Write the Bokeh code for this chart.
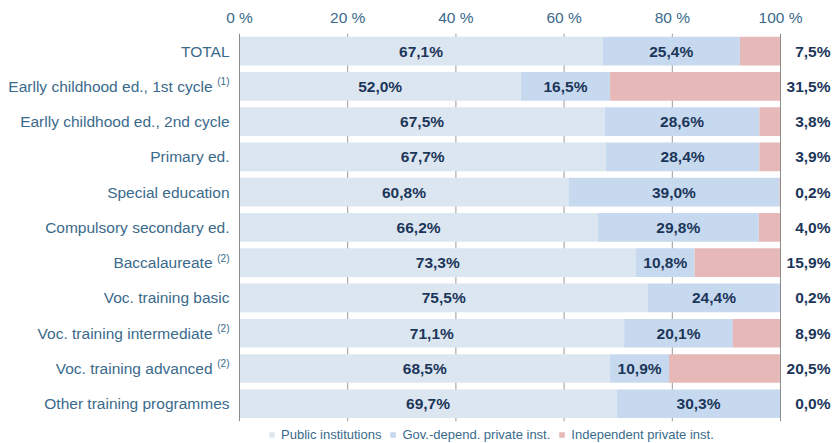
from bokeh.plotting import figure
from bokeh.models import (ColumnDataSource, Range1d, FixedTicker, Legend, LegendItem)
from bokeh.core.properties import value
from bokeh.embed import file_html
from bokeh.resources import INLINE

# ---- data ----
categories = ["TOTAL", "Earlly childhood ed., 1st cycle", "Earlly childhood ed., 2nd cycle",
              "Primary ed.", "Special education", "Compulsory secondary ed.", "Baccalaureate",
              "Voc. training basic", "Voc. training intermediate", "Voc. training advanced",
              "Other training programmes"]
notes = ["", "(1)", "", "", "", "", "(2)", "", "(2)", "(2)", ""]
public = [67.1, 52.0, 67.5, 67.7, 60.8, 66.2, 73.3, 75.5, 71.1, 68.5, 69.7]
govdep = [25.4, 16.5, 28.6, 28.4, 39.0, 29.8, 10.8, 24.4, 20.1, 10.9, 30.3]
indep = [7.5, 31.5, 3.8, 3.9, 0.2, 4.0, 15.9, 0.2, 8.9, 20.5, 0.0]
series_names = ["Public institutions", "Gov.-depend. private inst.", "Independent private inst."]
tick_vals = [0, 20, 40, 60, 80, 100]
tick_labels = ["0 %", "20 %", "40 %", "60 %", "80 %", "100 %"]

colors = ["#dce6f0", "#c6d9ee", "#e6b9b8"]
label_color = "#3a6a8c"
value_color = "#1c365a"
FONT = value("Liberation Sans")


def fmt(v):
    return ("%.1f" % v).replace(".", ",") + "%"


n = len(categories)
rows = list(range(n))  # row 0 at top
gov_end = [a + b for a, b in zip(public, govdep)]
ind_end = [a + b + c for a, b, c in zip(public, govdep, indep)]

src = ColumnDataSource(dict(
    row=rows, cat=categories, zero=[0] * n,
    pub_end=public, gov_end=gov_end, ind_end=ind_end,
    pub_mid=[v / 2 for v in public],
    gov_mid=[p + g / 2 for p, g in zip(public, govdep)],
    pub_txt=[fmt(v) for v in public],
    gov_txt=[fmt(v) for v in govdep],
    ind_txt=[fmt(v) for v in indep],
    right=[100] * n,
))

plain_idx = [i for i, t in enumerate(notes) if not t]
note_idx = [i for i, t in enumerate(notes) if t]
plain_src = ColumnDataSource(dict(row=plain_idx, cat=[categories[i] for i in plain_idx],
                                  x=[0] * len(plain_idx)))
note_src = ColumnDataSource(dict(row=note_idx, cat=[categories[i] for i in note_idx],
                                 note=[notes[i] for i in note_idx], x=[0] * len(note_idx)))

# ---- layout (pixels) ----
W, H = 833, 443
AX_L, AX_R = 239, 780          # screen x of 0 % and 100 %
ppu = (AX_R - AX_L) / 100.0
x_start = -AX_L / ppu
x_end = 100 + (W - AX_R) / ppu
y_extra = 0.63                 # room below last row for the legend

p = figure(width=W, height=H, output_backend="svg", toolbar_location=None,
           x_range=Range1d(x_start, x_end),
           y_range=Range1d(n - 0.5 + y_extra, -0.5),
           x_axis_location="above", y_axis_location=None,
           min_border_left=0, min_border_right=0, min_border_top=33, min_border_bottom=0)
p.outline_line_color = None
p.background_fill_color = "white"
p.grid.visible = False

# top axis
ax = p.xaxis[0]
ax.ticker = FixedTicker(ticks=tick_vals)
ax.major_label_overrides = {v: t for v, t in zip(tick_vals, tick_labels)}
ax.axis_line_color = None
ax.major_tick_line_color = None
ax.minor_tick_line_color = None
ax.major_tick_in = 0
ax.major_tick_out = 0
ax.major_label_standoff = 8
ax.major_label_text_font = "Liberation Sans"
ax.major_label_text_font_size = "15.5px"
ax.major_label_text_color = label_color

# vertical grid lines (behind bars)
inner = [t for t in tick_vals if 0 < t < 100]
p.segment(x0=inner, x1=inner, y0=[-0.5] * len(inner), y1=[n - 0.5] * len(inner),
          line_color="#9a9a9a", line_width=1)

# bars
bh = 0.81
r1 = p.hbar(y="row", left="zero", right="pub_end", height=bh, source=src,
            fill_color=colors[0], line_color=None)
r2 = p.hbar(y="row", left="pub_end", right="gov_end", height=bh, source=src,
            fill_color=colors[1], line_color=None)
r3 = p.hbar(y="row", left="gov_end", right="ind_end", height=bh, source=src,
            fill_color=colors[2], line_color=None)

# 0 % and 100 % lines
edges = [0, 100]
p.segment(x0=edges, x1=edges, y0=[-0.5] * 2, y1=[n - 0.5] * 2,
          line_color="#8c8c8c", line_width=1)

# values
common = dict(text_font=FONT, text_font_size="15.5px", text_font_style="bold",
              text_color=value_color, text_baseline="middle")
p.text(x="pub_mid", y="row", text="pub_txt", source=src, text_align="center", **common)
p.text(x="gov_mid", y="row", text="gov_txt", source=src, text_align="center", **common)
p.text(x="right", y="row", text="ind_txt", source=src, text_align="right",
       x_offset=50, **common)

# category labels
p.text(x="x", y="row", text="cat", source=plain_src, text_align="right",
       text_baseline="middle", x_offset=-10, text_font=FONT,
       text_font_size="15.5px", text_color=label_color)
p.text(x="x", y="row", text="cat", source=note_src, text_align="right",
       text_baseline="middle", x_offset=-27, text_font=FONT,
       text_font_size="15.5px", text_color=label_color)
p.text(x="x", y="row", text="note", source=note_src, text_align="right",
       text_baseline="middle", x_offset=-10, y_offset=-4.5, text_font=FONT,
       text_font_size="10px", text_color=label_color)

legend = Legend(items=[LegendItem(label=series_names[0], renderers=[r1]),
                       LegendItem(label=series_names[1], renderers=[r2]),
                       LegendItem(label=series_names[2], renderers=[r3])],
                orientation="horizontal", location=(AX_L + 29, 1),
                glyph_width=7, glyph_height=7, label_standoff=6, spacing=8,
                label_text_font="Liberation Sans", label_text_font_size="13px",
                label_text_color=label_color, label_height=12,
                border_line_color=None, background_fill_alpha=0,
                padding=0, margin=0)
p.add_layout(legend, "center")

open("out.html", "w").write(file_html(p, INLINE))
